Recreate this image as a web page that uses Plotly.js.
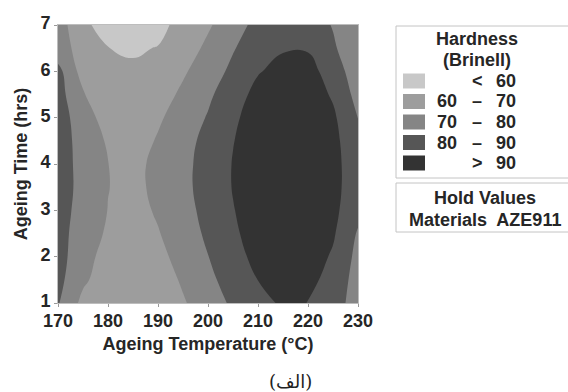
<!DOCTYPE html>
<html>
<head>
<meta charset="utf-8">
<script src="https://cdn.plot.ly/plotly-3.0.1.min.js"></script>
<style>html,body{margin:0;padding:0;background:#fff;}#chart{width:568px;height:392px;}</style>
</head>
<body>
<div id="chart"></div>
<script>
// Ageing temperature (°C) grid columns
const temps = [170, 175, 180, 185, 190, 195, 200, 205, 210, 215, 220, 225, 230];
// Ageing time (hrs) grid rows
const times = [1, 1.5, 2, 2.5, 3, 3.5, 4, 4.5, 5, 5.5, 6, 6.5, 7];
// Hardness (Brinell) estimated from the contour picture, one row per time
const hardness = [
  [80.8, 67.3, 63.5, 62.0, 63.5, 69.0, 75.5, 81.5, 86.5, 91.5, 89.9, 83.3, 76.7],
  [82.9, 71.8, 64.5, 62.5, 64.8, 71.3, 77.8, 84.0, 90.1, 93.0, 93.5, 85.5, 76.6],
  [83.4, 74.5, 65.5, 63.5, 67.3, 73.5, 79.8, 86.3, 92.9, 96.0, 95.0, 88.8, 77.2],
  [83.2, 75.9, 68.5, 65.5, 69.4, 75.4, 81.6, 88.3, 94.4, 97.5, 97.0, 91.2, 79.0],
  [83.7, 76.8, 69.8, 66.5, 71.2, 76.8, 82.8, 89.6, 94.5, 98.0, 98.0, 92.4, 83.0],
  [84.3, 77.3, 70.2, 67.4, 72.3, 77.6, 83.7, 90.4, 95.0, 98.5, 98.5, 92.1, 86.0],
  [84.3, 77.1, 70.1, 67.5, 72.2, 77.5, 83.6, 90.4, 95.0, 98.5, 98.5, 92.1, 86.0],
  [84.4, 76.6, 68.8, 65.2, 70.9, 76.6, 82.8, 89.7, 94.5, 98.0, 98.0, 92.3, 84.0],
  [84.6, 75.0, 65.4, 64.0, 68.6, 74.6, 80.7, 88.1, 95.0, 97.5, 97.0, 91.7, 79.8],
  [84.1, 70.7, 65.0, 63.0, 65.5, 71.9, 78.3, 85.5, 93.0, 95.5, 95.5, 88.8, 76.6],
  [83.1, 65.9, 63.5, 62.0, 62.5, 68.7, 75.3, 82.1, 89.3, 93.0, 93.5, 85.5, 74.0],
  [73.6, 66.9, 60.2, 58.5, 60.5, 65.0, 72.1, 79.3, 85.4, 89.2, 89.2, 81.2, 73.7],
  [74.5, 62.6, 55.0, 53.0, 56.0, 64.7, 68.7, 76.0, 82.8, 85.0, 84.5, 79.5, 76.0]
];
// contour levels
const levels = [60, 70, 80, 90];
// axis ticks
const xTicks = [170, 180, 190, 200, 210, 220, 230];
const yTicks = [1, 2, 3, 4, 5, 6, 7];
// legend texts
const legendTitle = ["Hardness", "(Brinell)"];
const legendLo = ["", "60", "70", "80", ""];
const legendOp = ["<", "–", "–", "–", ">"];
const legendHi = ["60", "70", "80", "90", "90"];
const holdTitle = "Hold Values";
const holdText = "Materials  AZE911";
const caption = "(الف)";

// styles
const bandColors = ["#c8c8c8", "#9d9d9d", "#858585", "#565656", "#333333"];
const FONT = "Liberation Sans, Arial, sans-serif";
const TXT = "#262626";

// pixel -> paper helpers (plot area: x 58..358, y 25..303)
const L = 58, R = 358, T = 25, B = 303;
const px = x => (x - L) / (R - L);
const py = y => (B - y) / (B - T);

const colorscale = bandColors.map((c, i) => [i / (bandColors.length - 1), c]);

const trace = {
  type: "contour",
  x: temps,
  y: times,
  z: hardness,
  autocontour: false,
  contours: {start: levels[0], end: levels[levels.length - 1], size: levels[1] - levels[0], coloring: "fill", showlines: false},
  line: {width: 0, smoothing: 1.3},
  colorscale: colorscale,
  showscale: false,
  hoverinfo: "skip"
};

const shapes = [];
const annotations = [];
// legend boxes
shapes.push({type: "rect", xref: "paper", yref: "paper", x0: px(396), x1: px(575), y0: py(178), y1: py(26),
  line: {color: "#c4c4c4", width: 1}, fillcolor: "rgba(0,0,0,0)"});
shapes.push({type: "rect", xref: "paper", yref: "paper", x0: px(396), x1: px(575), y0: py(232), y1: py(183),
  line: {color: "#c4c4c4", width: 1}, fillcolor: "rgba(0,0,0,0)"});

const tFont = {family: FONT, size: 18, color: TXT, weight: 700};
function label(x, y, text) {
  annotations.push({xref: "paper", yref: "paper", x: px(x), y: py(y), text: text, showarrow: false,
    xanchor: "center", yanchor: "middle", borderpad: 0, font: tFont});
}
label(477, 39, legendTitle[0]);
label(477, 60, legendTitle[1]);

const rowY = [81, 101.5, 122, 142.5, 163];
for (let i = 0; i < bandColors.length; i++) {
  const yc = rowY[i];
  shapes.push({type: "rect", xref: "paper", yref: "paper", x0: px(403), x1: px(425), y0: py(yc + 7.5), y1: py(yc - 7.5),
    line: {width: 0}, fillcolor: bandColors[i]});
  if (legendLo[i]) label(447, yc, legendLo[i]);
  label(477, yc, legendOp[i]);
  label(506, yc, legendHi[i]);
}
label(485, 198, holdTitle);
label(485, 220, holdText);
annotations.push({xref: "paper", yref: "paper", x: px(290), y: py(381), text: caption, showarrow: false, xanchor: "center", yanchor: "middle",
  font: {family: "DejaVu Serif, DejaVu Sans, serif", size: 18, color: "#222", weight: 400}});

const axisFont = {family: FONT, size: 18, color: TXT, weight: 700};
const titleFont = {family: FONT, size: 18, color: TXT, weight: 700};
const layout = {
  width: 568, height: 392,
  margin: {l: L, r: 568 - R, t: T, b: 392 - B, pad: 0},
  paper_bgcolor: "#ffffff", plot_bgcolor: "#ffffff",
  showlegend: false,
  xaxis: {
    range: [170, 230], tickvals: xTicks, ticktext: xTicks.map(String),
    ticks: "outside", ticklen: 3, tickcolor: "#999", showline: true, linecolor: "#bdbdbd", linewidth: 1, mirror: true,
    showgrid: false, zeroline: false, tickfont: axisFont, ticklabelstandoff: -2,
    title: {text: "Ageing Temperature (°C)", font: titleFont, standoff: 7}
  },
  yaxis: {
    range: [1, 7], tickvals: yTicks, ticktext: yTicks.map(String),
    ticks: "outside", ticklen: 3, tickcolor: "#999", showline: true, linecolor: "#bdbdbd", linewidth: 1, mirror: true,
    showgrid: false, zeroline: false, tickfont: axisFont, ticklabelshift: -2,
    title: {text: "Ageing Time (hrs)", font: titleFont, standoff: 8}
  },
  shapes: shapes,
  annotations: annotations
};

Plotly.newPlot("chart", [trace], layout, {staticPlot: true, displayModeBar: false});
</script>
</body>
</html>
